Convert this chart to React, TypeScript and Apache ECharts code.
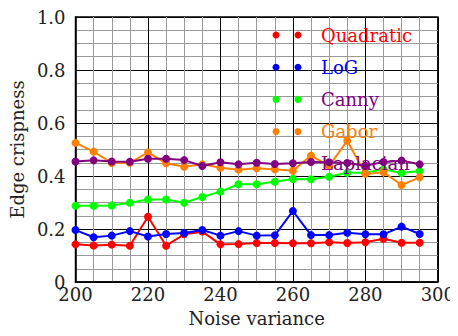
import React, { useEffect, useRef } from "react";
import * as echarts from "echarts";

const noise = [200, 205, 210, 215, 220, 225, 230, 235, 240, 245, 250, 255, 260, 265, 270, 275, 280, 285, 290, 295];
const seriesNames = ["Quadratic", "LoG", "Canny", "Gabor", "Laplacian"];
const quadratic = [0.142, 0.138, 0.141, 0.137, 0.246, 0.137, 0.18, 0.19, 0.142, 0.143, 0.147, 0.147, 0.146, 0.146, 0.15, 0.147, 0.15, 0.163, 0.148, 0.148];
const log = [0.196, 0.169, 0.175, 0.192, 0.172, 0.181, 0.185, 0.196, 0.175, 0.192, 0.175, 0.176, 0.268, 0.177, 0.177, 0.186, 0.18, 0.18, 0.209, 0.181];
const canny = [0.288, 0.288, 0.289, 0.299, 0.311, 0.311, 0.299, 0.321, 0.341, 0.369, 0.369, 0.378, 0.389, 0.388, 0.397, 0.412, 0.412, 0.425, 0.411, 0.419];
const gabor = [0.525, 0.492, 0.449, 0.45, 0.489, 0.448, 0.435, 0.444, 0.431, 0.424, 0.429, 0.425, 0.42, 0.477, 0.438, 0.533, 0.408, 0.414, 0.366, 0.395];
const laplacian = [0.455, 0.459, 0.455, 0.454, 0.465, 0.465, 0.46, 0.438, 0.452, 0.444, 0.45, 0.445, 0.448, 0.453, 0.452, 0.449, 0.439, 0.453, 0.458, 0.444];
const allValues = [quadratic, log, canny, gabor, laplacian];

const lineColors = ["#ff0000", "#0000ff", "#00ff00", "#ff8000", "#800080"];
const legendTextColors = ["#ff0000", "#0000ff", "#800080", "#ff8000", "#800080"];
const FONT = "DejaVu Serif, serif";
const FS = 18;

export default function App() {
  const ref = useRef<HTMLDivElement>(null);
  useEffect(() => {
    const chart = echarts.init(ref.current!, null, { renderer: "svg" });
    const series = seriesNames.map((name, i) => ({
      name,
      type: "line",
      data: noise.map((x, j) => [x, allValues[i][j]]),
      symbol: "circle",
      symbolSize: 8,
      lineStyle: { color: lineColors[i], width: 2 },
      itemStyle: { color: lineColors[i] },
      z: 2 + i,
    }));
    const legendGraphics: any[] = [];
    seriesNames.forEach((name, i) => {
      const y = 35 + i * 32.2;
      if (i < 4) {
        legendGraphics.push({ type: "circle", shape: { cx: 276, cy: y, r: 3.5 }, style: { fill: lineColors[i] }, z: 100 });
        legendGraphics.push({ type: "circle", shape: { cx: 298, cy: y, r: 3.5 }, style: { fill: lineColors[i] }, z: 100 });
      }
      legendGraphics.push({
        type: "text",
        x: 321,
        y,
        style: { text: name, fill: legendTextColors[i], fontFamily: FONT, fontSize: FS, verticalAlign: "middle", align: "left" },
        z: 100,
      });
    });
    chart.setOption({
      animation: false,
      backgroundColor: "#fff",
      textStyle: { fontFamily: FONT },
      grid: { left: 71, right: 17, top: 17, bottom: 54, show: true, borderColor: "#000", borderWidth: 1.5, backgroundColor: "transparent" },
      xAxis: {
        type: "value",
        min: 200,
        max: 300,
        interval: 20,
        name: "Noise variance",
        nameLocation: "middle",
        nameGap: 27,
        nameTextStyle: { fontFamily: FONT, fontSize: FS, color: "#222" },
        axisLine: { show: true, onZero: false, lineStyle: { color: "#000", width: 1.5 } },
        axisTick: { show: false },
        axisLabel: { fontFamily: FONT, fontSize: FS, color: "#222", margin: 3 },
        splitLine: { show: true, lineStyle: { color: "#000", width: 1 } },
        minorTick: { show: false, splitNumber: 4 },
        minorSplitLine: { show: true, lineStyle: { color: "#999", width: 1 } },
      },
      yAxis: {
        type: "value",
        min: 0,
        max: 1,
        interval: 0.2,
        name: "Edge crispness",
        nameLocation: "middle",
        nameGap: 44,
        nameTextStyle: { fontFamily: FONT, fontSize: FS, color: "#222" },
        axisLine: { show: true, lineStyle: { color: "#000", width: 1.5 } },
        axisTick: { show: false },
        axisLabel: {
          fontFamily: FONT,
          fontSize: FS,
          color: "#222",
          margin: 10,
          formatter: (v: number) => (v === 0 ? "0" : v.toFixed(1)),
        },
        splitLine: { show: true, lineStyle: { color: "#000", width: 1 } },
        minorTick: { show: false, splitNumber: 4 },
        minorSplitLine: { show: true, lineStyle: { color: "#999", width: 1 } },
      },
      series,
      graphic: legendGraphics,
    });
    return () => chart.dispose();
  }, []);
  return <div ref={ref} style={{ width: 458, height: 336, margin: -8 }} />;
}
